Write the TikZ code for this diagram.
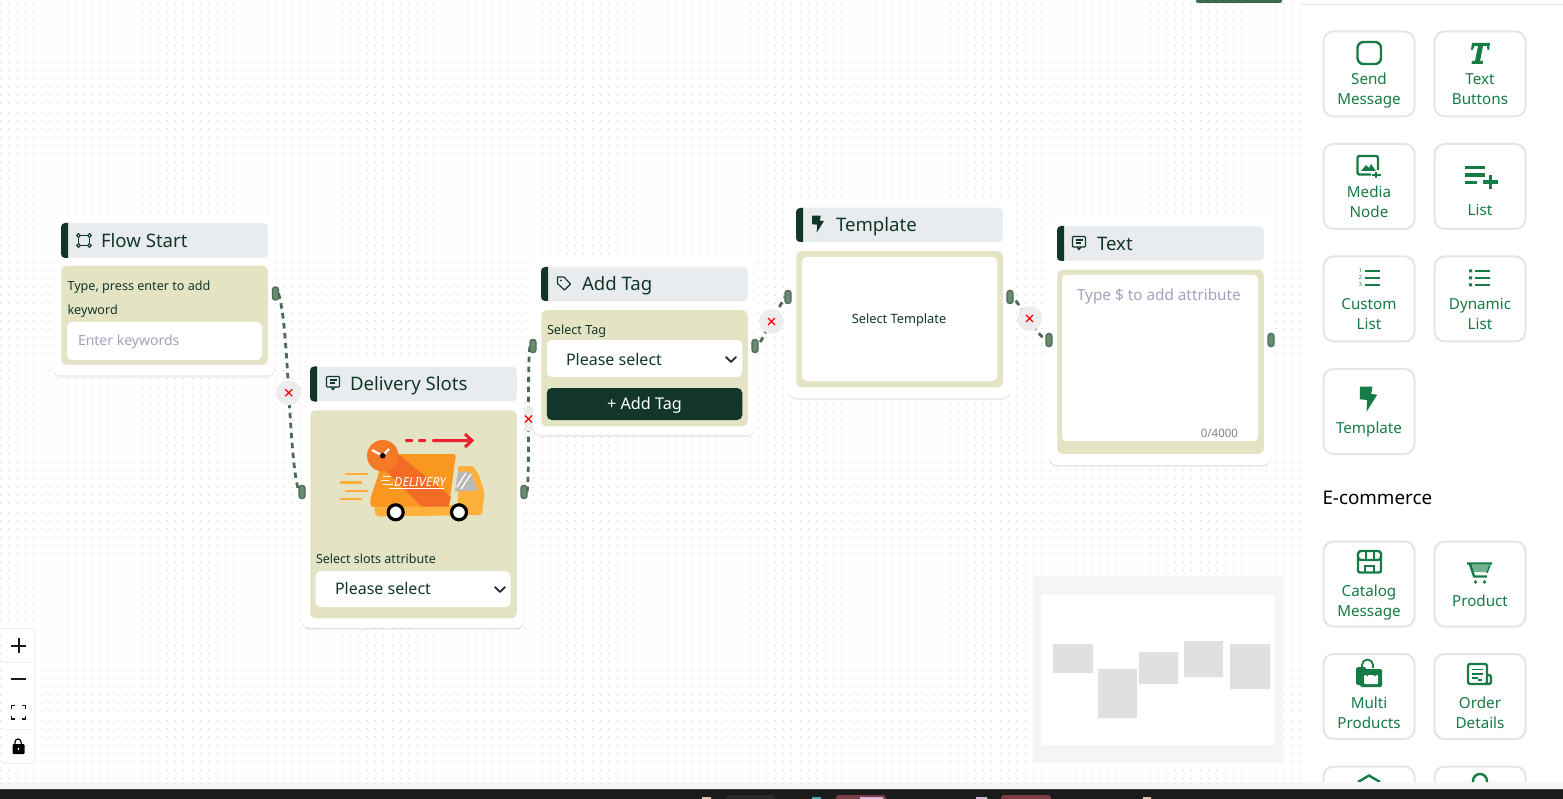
\documentclass[tikz,border=0pt]{standalone}
\usepackage{fontspec}
\setmainfont{Noto Sans}
\usepackage{tikz}
\usetikzlibrary{arrows.meta, positioning, shadows, calc}
\definecolor{darkgreen}{HTML}{12372A}
\definecolor{headgray}{HTML}{E9ECEF}
\definecolor{bodyolive}{HTML}{E4E3C4}
\definecolor{handlegreen}{HTML}{6B8A6F}
\definecolor{wiregreen}{HTML}{4A6B52}
\definecolor{sidegreen}{HTML}{167B45}
\definecolor{holdertxt}{HTML}{A0A3BD}
\definecolor{truckbox}{HTML}{F99720}
\definecolor{truckstripe}{HTML}{F36C26}
\definecolor{truckcab}{HTML}{FDB03C}
\definecolor{truckclock}{HTML}{F47A28}
\definecolor{truckred}{HTML}{EE2030}
\definecolor{barblack}{HTML}{1B1B1B}
\definecolor{pillred}{HTML}{7A3F46}
\definecolor{topgreen}{HTML}{3C6B52}
\pgfdeclarelayer{dots}
\pgfdeclarelayer{wires}
\pgfsetlayers{dots,wires,main}

\begin{document}
\begin{tikzpicture}[x=1pt,y=-1pt,node distance=9pt,
        every node/.style={inner sep=0pt,outer sep=0pt},
        card/.style 2 args={rounded corners=8pt,fill=white,minimum width=#1pt,minimum height=#2pt,
            general shadow={fill=black,opacity=.03,shadow xshift=0pt,shadow yshift=-1pt,scale=1.015},
            general shadow={fill=black,opacity=.06,shadow xshift=0pt,shadow yshift=-2pt}},
        head/.style={rounded corners=4pt,fill=headgray,minimum width=206.5pt,minimum height=34.5pt},
        body/.style 2 args={rounded corners=5pt,fill=bodyolive,minimum width=206.5pt,minimum height=#2pt},
        field/.style 2 args={rounded corners=5pt,fill=white,minimum width=#1pt,minimum height=#2pt},
        headtxt/.style={anchor=base west,text=darkgreen,font=\fontsize{18.6}{20}\selectfont},
        smalltxt/.style={anchor=base west,text=darkgreen,font=\fontsize{12.6}{14}\selectfont},
        seltxt/.style={anchor=base west,text=darkgreen,font=\fontsize{16}{18}\selectfont},
        holder/.style={anchor=base west,text=holdertxt,font=\fontsize{14}{16}\selectfont},
        handle/.style={draw=wiregreen,fill=handlegreen,rounded corners=2.5pt,line width=1.2pt,
            minimum width=6pt,minimum height=13pt},
        delbtn/.style={circle,fill=black!7,minimum size=25pt},
        wire/.style={wiregreen,line width=2.8pt,dash pattern=on 5.5pt off 4.5pt},
        tool/.style={draw=black!10,line width=2pt,fill=white,rounded corners=10pt,minimum width=91pt,minimum height=85pt},
        toollbl/.style={text=sidegreen,align=center,text height=11pt,text depth=3.5pt,font=\fontsize{15.2}{20}\selectfont},
        ico/.style={sidegreen,line width=2.4pt},
        chev/.style={black!80,line width=2pt,line cap=round,line join=round},
        ctrl/.style={fill=white,minimum width=31pt,minimum height=33pt},
        mapbox/.style={fill=black!12},
        pics/chatico/.style={code={
            \draw[#1,line width=1.3pt,rounded corners=1pt] (-6.5,-6.5) rectangle (6.5,4);
            \draw[#1,line width=1.3pt] (-2,4) -- (0,6.5) -- (2,4);
            \draw[#1,line width=1.2pt] (-3.5,-3) -- (3.5,-3) (-3.5,0) -- (1.5,0);}},
        pics/boltico/.style={code={
            \fill[#1] (-8.7,-12.3) -- (4,-12.3) -- (2.7,-5) -- (8.7,-4.3) -- (-2,12.7) -- (-1.3,1) -- (-8.7,.3) -- cycle;}},
        leftbar/.style={darkgreen}]

    \useasboundingbox (0,0) rectangle (1563,799);

    % canvas
    \begin{pgfonlayer}{dots}
      \fill[white] (0,0) rectangle (1563,799);
      \foreach \dy in {0,...,93}
        \draw[black!20,line width=1pt,dash pattern=on 1pt off 7.33pt] (.1,{3.9+\dy*8.33}) -- (1301,{3.9+\dy*8.33});
    \end{pgfonlayer}

    % flow start
    \node[card={222}{161}] (fs_card) at (164,295) {};
    \node[head] (fs_head) at (164.5,240.5) {};
    \node[body={206.5}{99}] (fs_body) [below=8pt of fs_head] {};
    \fill[leftbar] (68,223) [rounded corners=4pt] -- (61,223) -- (61,258) [sharp corners] -- (68,258) -- cycle;
    \node[headtxt] (fs_title) at (101,248) {Flow Start};
    \node[smalltxt] (fs_hint) at (67.5,290.5) {Type, press enter to add};
    \node[smalltxt] (fs_hint2) at (67.5,315) {keyword};
    \node[field={195}{38}] (fs_input) at (164.5,341) {};
    \node[holder] (fs_keys) at (78,345) {Enter keywords};
    \draw[darkgreen,line width=1.2pt] (78.5,235.5) rectangle (89.5,245.5);
    \foreach \cx/\cy in {78.5/235.5,89.5/235.5,78.5/245.5,89.5/245.5}
      \filldraw[fill=headgray,draw=darkgreen,line width=1.1pt] (\cx,\cy) circle (1.8);

    % delivery slots
    \node[card={222}{270}] (ds_card) at (413,493) {};
    \node[head] (ds_head) at (413.5,384) {};
    \node[body={206.5}{208}] (ds_body) [below=9pt of ds_head] {};
    \fill[leftbar] (317,366.5) [rounded corners=4pt] -- (310,366.5) -- (310,401.5) [sharp corners] -- (317,401.5) -- cycle;
    \node[headtxt] (ds_title) at (350,390.5) {Delivery Slots};
    \pic at (333,383) {chatico=darkgreen};
    \node[smalltxt,font=\fontsize{12.5}{14}\selectfont] (ds_label) at (316,563) {Select slots attribute};
    \node[field={195}{36}] (ds_select) at (413,589) {};
    \node[seltxt] (ds_please) at (335,594.8) {Please select};
    \draw[chev] (495,587) -- (500,592) -- (505,587);
    % truck picture
    \fill[truckred,rounded corners=1pt] (405,439) rectangle (413,442) (418,439) rectangle (426,442) (432,439) rectangle (470,442);
    \draw[truckred,line width=3pt] (465,434) -- (472,440.5) -- (465,447);
    \draw[truckcab!85!truckbox,line width=2.8pt,line cap=round]
        (346,474) -- (367,474) (341,482.5) -- (361,482.5) (346,491) -- (367,491) (341,499) -- (361,499);
    \fill[truckcab,rounded corners=2pt] (458,466) -- (473,466) -- (479,475) -- (484.5,493) -- (482,515) -- (376,516.5) -- (374,507) -- (458,505) -- cycle;
    \fill[truckbox,rounded corners=2.5pt] (385,454) -- (456,454) -- (449,506) -- (371,507) -- (370,500) -- cycle;
    \fill[truckstripe] (398,454) -- (451,497) -- (448.5,506.5) -- (421.7,506.5) -- (385,470) -- cycle;
    \fill[black!28] (458,471.5) -- (470,471.5) -- (477.5,490.5) -- (455,491.5) -- cycle;
    \draw[white,line width=1.3pt] (457,487) -- (466,473) (461,489) -- (471,474);
    \fill[truckclock] (382.7,455.7) circle (15.7);
    \draw[white,line width=2.2pt] (372,450) -- (382.7,455.7) -- (389,449);
    \fill[black] (382.7,455.7) circle (2.8);
    \filldraw[fill=white,draw=black,line width=3.2pt] (395.7,512.3) circle (7.5) (459,512.3) circle (7.5);
    \node[anchor=center,text=white,font=\bfseries\itshape\fontsize{12.5}{14}\selectfont] (ds_truck) at (420,482) {DELIVERY};
    \draw[white,line width=1pt] (389,488.5) -- (444,488.5) (383,476.5) -- (391,476.5) (381,480) -- (389,480) (383,484) -- (393,484);

    % add tag
    \node[card={222}{177}] (at_card) at (644,346.5) {};
    \node[head] (at_head) at (644.5,284) {};
    \node[body={206.5}{116}] (at_body) [below=9pt of at_head] {};
    \fill[leftbar] (548,267) [rounded corners=4pt] -- (541,267) -- (541,301) [sharp corners] -- (548,301) -- cycle;
    \node[headtxt] (at_title) at (582,291) {Add Tag};
    \node[smalltxt] (at_label) at (547,335) {Select Tag};
    \node[field={195.5}{37}] (at_select) at (644.5,358.5) {};
    \node[seltxt] (at_please) at (566,366) {Please select};
    \node[field={195.5}{32},fill=darkgreen] (at_btn) at (644.5,404) {};
    \node[anchor=base,text=white,font=\fontsize{16.2}{18}\selectfont] (at_add) at (644.5,409.5) {+ Add Tag};
    \draw[chev] (726,357) -- (731,362) -- (736,357);
    \draw[darkgreen,line width=1.2pt,line join=round] (557.5,277) -- (564,277) -- (570.5,284) -- (564.5,290) -- (557.5,283.5) -- cycle;
    \fill[darkgreen] (560.8,280.5) circle (1);

    % template
    \node[card={222}{198}] (tp_card) at (899,299) {};
    \node[head] (tp_head) at (899.5,225) {};
    \node[body={206.5}{136}] (tp_body) [below=9pt of tp_head] {};
    \fill[leftbar] (803,208) [rounded corners=4pt] -- (796,208) -- (796,242) [sharp corners] -- (803,242) -- cycle;
    \node[headtxt] (tp_title) at (836,232) {Template};
    \node[field={195.5}{124}] (tp_field) at (899.5,319) {};
    \node[anchor=base,text=darkgreen,font=\fontsize{12.8}{14}\selectfont] (tp_select) at (899,324) {Select Template};
    \pic[scale=.68] at (818,224) {boltico=darkgreen};

    % text
    \node[card={222}{247}] (tx_card) at (1160,341.5) {};
    \node[head] (tx_head) at (1160.5,243.5) {};
    \node[body={206.5}{184}] (tx_body) [below=9pt of tx_head] {};
    \fill[leftbar] (1064,226) [rounded corners=4pt] -- (1057,226) -- (1057,261) [sharp corners] -- (1064,261) -- cycle;
    \node[headtxt] (tx_title) at (1097,251) {Text};
    \pic at (1079,243) {chatico=darkgreen};
    \fill[white,rounded corners=4pt] (1062,275) rectangle (1258,441);
    \node[holder,font=\fontsize{15.3}{17}\selectfont] (tx_hold) at (1077,301) {Type \$ to add attribute};
    \node[anchor=base east,text=black!50,font=\fontsize{11.5}{13}\selectfont] (tx_count) at (1238,437) {0/4000};

    % handles
    \node[handle] (fs_out) at (275.5,293.5) {};
    \node[handle] (ds_in) at (302,492) {};
    \node[handle] (ds_out) at (524,492) {};
    \node[handle] (at_in) at (533,346) {};
    \node[handle] (at_out) at (755,346) {};
    \node[handle] (tp_in) at (788,297) {};
    \node[handle] (tp_out) at (1010,297) {};
    \node[handle] (tx_in) at (1049,340) {};
    \node[handle] (tx_out) at (1271,340) {};

    \begin{pgfonlayer}{wires}
      \draw[wire] (fs_out.east) to[out=-72,in=108,looseness=.45] (ds_in.west);
      \draw[wire] (ds_out.east) to[out=80,in=-100,looseness=.3] (at_in.west);
      \draw[wire,dash phase=5.5pt] (at_out.east) to[out=60,in=-120,looseness=.5] (tp_in.west);
      \draw[wire,dash phase=5.5pt] (tp_out.east) to[out=-50,in=150,looseness=.5] (tx_in.west);
      \node[delbtn] (del_a) at ($(fs_out)!.5!(ds_in)$) {};
      \node[delbtn] (del_b) at ($(ds_out)!.5!(at_in)$) {};
      \node[delbtn] (del_c) at ($(at_out)!.5!(tp_in)$) {};
      \node[delbtn] (del_d) at ($(tp_out)!.5!(tx_in)$) {};
      \foreach \d in {del_a,del_b,del_c,del_d}
        \draw[red,line width=1.1pt] ($(\d)+(-3.5,-3.5)$) -- ($(\d)+(3.5,3.5)$) ($(\d)+(-3.5,3.5)$) -- ($(\d)+(3.5,-3.5)$);
    \end{pgfonlayer}

    % controls
    \fill[black!6] (2.5,627.5) rectangle (34.5,763.5);
    \node[ctrl] (zm_in) at (18.5,645) {};
    \node[ctrl] (zm_out) at (18.5,679) {};
    \node[ctrl] (zm_fit) at (18.5,712.5) {};
    \node[ctrl] (zm_lock) at (18.5,746.5) {};
    \draw[black!90,line width=2pt] (11,645.5) -- (26,645.5) (18.5,638) -- (18.5,653) (11,679) -- (26,679);
    \draw[black!90,line width=1.8pt]
        (11.5,709) -- (11.5,705.5) -- (15,705.5) (22,705.5) -- (25.5,705.5) -- (25.5,709)
        (25.5,715.5) -- (25.5,719) -- (22,719) (15,719) -- (11.5,719) -- (11.5,715.5);
    \fill[black,rounded corners=1pt] (12.5,744) rectangle (24.5,754);
    \draw[black,line width=1.2pt] (15,744) -- (15,742) arc (180:360:3) -- (21.5,744);
    \fill[white] (18.5,749) circle (1.2);

    % mini map
    \fill[black!4] (1033,576) rectangle (1283,763);
    \fill[white] (1041,594.5) rectangle (1275,745);
    \fill[mapbox] (1053,644) rectangle (1093,673) (1098,669) rectangle (1137,718) (1139,652) rectangle (1178,684)
        (1184,641) rectangle (1223,677) (1230,644) rectangle (1270,689);

    % side panel
    \fill[white] (1301,4) rectangle (1563,782);
    \draw[black!10,line width=1pt] (1302,4.5) -- (1563,4.5);
    \foreach \tx/\ty/\tname in {
        1369/74/send, 1480/74/txtb, 1369/186.5/media, 1480/186.5/list,
        1369/299/cust, 1480/299/dyn, 1369/411.5/tmpl,
        1369/584/cat, 1480/584/prod, 1369/696.5/multi, 1480/696.5/order,
        1369/809/more_a, 1480/809/more_b}
      \node[tool] (\tname) at (\tx,\ty) {};

    \node[toollbl] (send_t) at (1369,100.7) {Send\\Message};
    \node[toollbl] (txtb_t) at (1480,100.7) {Text\\Buttons};
    \node[toollbl] (media_t) at (1369,213.5) {Media\\Node};
    \node[toollbl] (list_t) at (1480,211.7) {List};
    \node[toollbl] (cust_t) at (1369,326) {Custom\\List};
    \node[toollbl] (dyn_t) at (1480,326) {Dynamic\\List};
    \node[toollbl] (tmpl_t) at (1369,429.7) {Template};
    \node[toollbl] (cat_t) at (1369,612.7) {Catalog\\Message};
    \node[toollbl] (prod_t) at (1480,602.7) {Product};
    \node[toollbl] (multi_t) at (1369,724.7) {Multi\\Products};
    \node[toollbl] (order_t) at (1480,724.7) {Order\\Details};
    \node[anchor=base west,text=black,font=\fontsize{18.8}{20}\selectfont] (shop_t) at (1322.5,504) {E-commerce};

    % tool icons
    \draw[ico,rounded corners=6pt] (1357.5,42) rectangle (1381,64);
    \fill[sidegreen] (1472,43) -- (1490,43) -- (1489,50) -- (1487.5,50) -- (1487,46) -- (1483,46) -- (1480,61) -- (1483,61) -- (1482.5,64) -- (1471.5,64) -- (1472,61) -- (1475,61) -- (1478,46) -- (1474.5,46) -- (1472.5,50) -- (1471,50) -- cycle;
    \draw[ico,rounded corners=2pt] (1378,170) -- (1378,156) -- (1357.5,156) -- (1357.5,174.5) -- (1371,174.5);
    \fill[sidegreen] (1361,171) -- (1366,165) -- (1369,168) -- (1371,164) -- (1376,171) -- cycle;
    \draw[ico] (1376,172) -- (1376,178) (1372,175) -- (1381,175);
    \draw[sidegreen,line width=3.4pt] (1464.5,167.5) -- (1485,167.5) (1464.5,175) -- (1485,175) (1464.5,182.5) -- (1477,182.5)
        (1483,182) -- (1498,182) (1490.5,175) -- (1490.5,189);
    \draw[sidegreen,line width=2.8pt] (1365,271) -- (1380,271) (1365,278) -- (1380,278) (1365,285) -- (1380,285);
    \node[text=sidegreen,font=\bfseries\fontsize{5.5}{7}\selectfont,align=center] (cust_n) at (1360.5,278) {1\\2\\3};
    \draw[sidegreen,line width=2.8pt] (1475,271) -- (1490,271) (1475,278) -- (1490,278) (1475,285) -- (1490,285);
    \fill[sidegreen] (1469,269.5) rectangle (1472,272.5) (1469,276.5) rectangle (1472,279.5) (1469,283.5) rectangle (1472,286.5);
    \pic at (1368.5,399) {boltico=sidegreen};
    % catalog
    \draw[ico,rounded corners=2pt] (1358,553) -- (1358,572.5) -- (1381,572.5) -- (1381,553);
    \draw[ico,fill=white,rounded corners=3pt] (1358,551) rectangle (1381,560);
    \draw[sidegreen,line width=2pt] (1365.5,550) -- (1365.5,560) (1373.5,550) -- (1373.5,560);
    \draw[sidegreen,line width=2pt] (1365,572) -- (1365,566) -- (1374,566) -- (1374,572);
    % cart
    \fill[sidegreen!60] (1469,565) -- (1490,565) -- (1487,572) -- (1472,572) -- cycle;
    \draw[ico,line join=round] (1467,563.5) -- (1492,563.5) (1470,564) -- (1474,576.5) -- (1487,576.5);
    \draw[sidegreen,line width=1.4pt] (1490,565) -- (1487,573);
    \fill[sidegreen] (1475.5,582) circle (1.8) (1484.5,582) circle (1.8);
    % bag
    \fill[sidegreen,rounded corners=1.5pt] (1356,667) rectangle (1366,685);
    \draw[sidegreen,line width=1.8pt] (1362,668) -- (1362,665) arc (180:360:5.5) -- (1373,668);
    \fill[sidegreen,rounded corners=1.5pt] (1360,669) -- (1382,669) -- (1382,687) -- (1360,687) -- cycle;
    \fill[white,rounded corners=1pt] (1364,675) rectangle (1378,684);
    \fill[sidegreen] (1364,672) rectangle (1378,675);
    \draw[sidegreen,line width=1.6pt] (1367,676) arc (180:360:4);
    % order
    \draw[ico,rounded corners=1.5pt] (1468,664) -- (1487,664) -- (1487,684) -- (1468,684) -- cycle;
    \draw[ico,rounded corners=1.5pt] (1487,675) -- (1491,675) -- (1491,684) -- (1485,684);
    \draw[sidegreen,line width=1.5pt] (1472,669.5) -- (1483,669.5) (1472,674) -- (1483,674) (1472,678) -- (1478,678);
    \fill[sidegreen] (1478,679) rectangle (1482,681);
    % cut off icons
    \draw[ico] (1358,782) -- (1369,775.5) -- (1380,782);
    \draw[ico] (1480,781) circle (7);

    % screen edge
    \fill[black!3] (0,782) rectangle (1563,789);
    \fill[barblack] (0,789) rectangle (1563,799);
    \draw[black!75,line width=.8pt] (0,789.4) -- (1563,789.4);
    \fill[black!83,rounded corners=3pt] (726,795) rectangle (775,801);
    \fill[pillred,rounded corners=3pt] (836,795) rectangle (886,801) (1001,795) rectangle (1051,801);
    \fill[violet!30] (860,797) rectangle (883,799) (976,797) rectangle (987,799);
    \fill[brown!50] (702,797) rectangle (711,799) (1143,797) rectangle (1151,799);
    \fill[teal!70] (812,797) rectangle (821,799);
    \fill[topgreen,rounded corners=2pt] (1196,-3) rectangle (1282,3);
    \end{tikzpicture}
\end{document}
